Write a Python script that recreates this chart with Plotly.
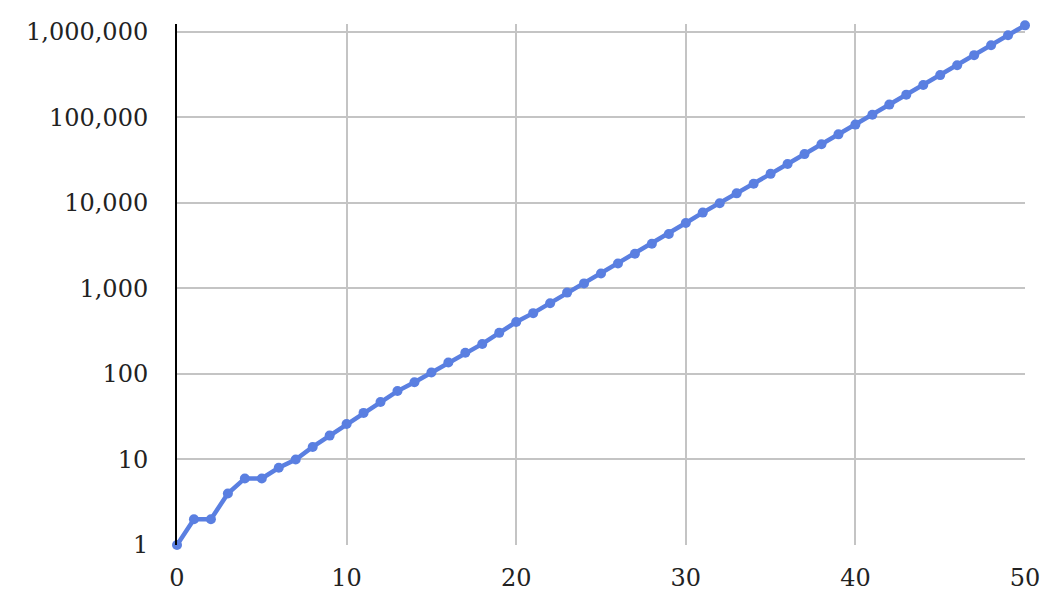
import plotly.graph_objects as go

x_values = list(range(0, 51))
y_values = [1, 2, 2, 4, 6, 6, 8, 10, 14, 19, 26, 35, 47, 63, 80, 104, 136, 177, 224, 302,
            404, 513, 670, 892, 1143, 1494, 1950, 2543, 3316, 4325, 5800, 7680, 9890, 12900,
            16700, 21800, 28400, 37100, 48400, 63100, 82000, 107000, 140600, 183700, 238000,
            311000, 406000, 532000, 695000, 908000, 1186000]

x_ticks = [0, 10, 20, 30, 40, 50]
y_ticks = [1, 10, 100, 1000, 10000, 100000, 1000000]
y_tick_text = ["1", "10", "100", "1,000", "10,000", "100,000", "1,000,000"]

fig = go.Figure()
fig.add_trace(go.Scatter(
    x=x_values, y=y_values, mode="lines+markers",
    line=dict(color="#5a7fe1", width=4.5),
    marker=dict(color="#5a7fe1", size=10),
    cliponaxis=False, showlegend=False,
))

font = dict(family="DejaVu Serif, Liberation Serif, serif", size=24, color="#222222")

fig.update_layout(
    width=1042, height=594,
    margin=dict(l=169, r=23, t=10, b=57),
    paper_bgcolor="white", plot_bgcolor="white",
    font=font,
    xaxis=dict(range=[0, 50], tickvals=x_ticks, showgrid=True, gridcolor="#c4c4c4",
               gridwidth=2, zeroline=False, showline=False, ticks="",
               ticklabelstandoff=16, tickfont=font),
    yaxis=dict(type="log", range=[0, 6.09], tickvals=y_ticks, ticktext=y_tick_text,
               showgrid=True, gridcolor="#c4c4c4", gridwidth=2, zeroline=False,
               showline=True, linecolor="black", linewidth=2, ticks="",
               ticklabelstandoff=22, tickfont=font),
)

fig.write_html("out.html")
